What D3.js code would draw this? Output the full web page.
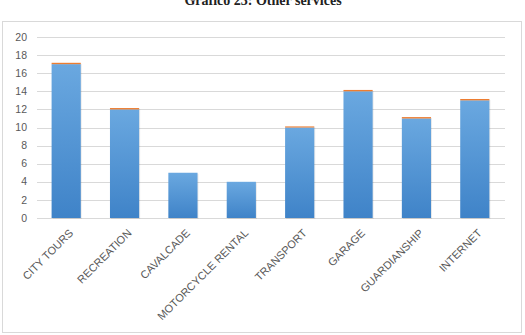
<!DOCTYPE html>
<html>
<head>
<meta charset="utf-8">
<script src="https://cdn.jsdelivr.net/npm/d3@7"></script>
<style>
  body { margin: 0; background: #fff; }
</style>
</head>
<body>
<div id="chart"></div>
<script>
var categories = ["CITY TOURS", "RECREATION", "CAVALCADE", "MOTORCYCLE RENTAL", "TRANSPORT", "GARAGE", "GUARDIANSHIP", "INTERNET"];
var mainValues = [17, 12, 5, 4, 10, 14, 11, 13];
var capValues = [0.15, 0.15, 0, 0, 0.12, 0.15, 0.15, 0.15];
var yTicks = [0, 2, 4, 6, 8, 10, 12, 14, 16, 18, 20];

var W = 525, H = 335;
var margin = { top: 37, right: 20, bottom: 117, left: 37 };

var svg = d3.select("#chart").append("svg")
    .attr("width", W)
    .attr("height", H);

// gradient for the bars
var grad = svg.append("defs").append("linearGradient")
    .attr("id", "barGrad")
    .attr("x1", 0).attr("y1", 0).attr("x2", 0).attr("y2", 1);
grad.append("stop").attr("offset", "0%").attr("stop-color", "#6aa8e0");
grad.append("stop").attr("offset", "100%").attr("stop-color", "#3f83c8");

// title (cut off at the top, as in the source)
svg.append("text")
    .attr("x", 263)
    .attr("y", 5)
    .attr("text-anchor", "middle")
    .style("font-family", "'Liberation Serif', serif")
    .style("font-weight", "bold")
    .style("font-size", "14px")
    .attr("fill", "#222")
    .text("Gráfico 23: Other services");

// outer chart border
svg.append("rect")
    .attr("x", 2.5).attr("y", 21.5)
    .attr("width", 519).attr("height", 311)
    .attr("fill", "none")
    .attr("stroke", "#d9d9d9");

var x = d3.scaleBand()
    .domain(categories)
    .range([margin.left, 504])
    .paddingInner(0.5)
    .paddingOuter(0.25);

var y = d3.scaleLinear()
    .domain([0, 20])
    .range([218, margin.top]);

// gridlines
svg.append("g")
    .selectAll("line")
    .data(yTicks)
    .enter()
    .append("line")
    .attr("x1", margin.left)
    .attr("x2", 505)
    .attr("y1", function(d) { return Math.round(y(d)) + 0.5; })
    .attr("y2", function(d) { return Math.round(y(d)) + 0.5; })
    .attr("stroke", "#d9d9d9")
    .attr("stroke-width", 1);

// y tick labels
svg.append("g")
    .selectAll("text")
    .data(yTicks)
    .enter()
    .append("text")
    .attr("x", 27)
    .attr("y", function(d) { return y(d); })
    .attr("dy", "0.35em")
    .attr("text-anchor", "end")
    .style("font-family", "'Liberation Sans', Arial, sans-serif")
    .style("font-size", "10.5px")
    .attr("fill", "#595959")
    .text(function(d) { return d; });

// shadow under bars
svg.append("g")
    .selectAll("rect")
    .data(categories)
    .enter()
    .append("rect")
    .attr("x", function(d) { return x(d) + 1; })
    .attr("y", function(d, i) { return y(mainValues[i] + capValues[i]) + 1; })
    .attr("width", x.bandwidth())
    .attr("height", function(d, i) { return y(0) - y(mainValues[i] + capValues[i]); })
    .attr("fill", "#000")
    .attr("opacity", 0.08);

// main bars
svg.append("g")
    .selectAll("rect")
    .data(categories)
    .enter()
    .append("rect")
    .attr("x", function(d) { return x(d); })
    .attr("y", function(d, i) { return y(mainValues[i]); })
    .attr("width", x.bandwidth())
    .attr("height", function(d, i) { return y(0) - y(mainValues[i]); })
    .attr("fill", "url(#barGrad)");

// small orange caps
svg.append("g")
    .selectAll("rect")
    .data(categories)
    .enter()
    .append("rect")
    .attr("x", function(d) { return x(d); })
    .attr("y", function(d, i) { return y(mainValues[i] + capValues[i]); })
    .attr("width", x.bandwidth())
    .attr("height", function(d, i) { return y(mainValues[i]) - y(mainValues[i] + capValues[i]); })
    .attr("fill", "#ed7d31");

// category labels
svg.append("g")
    .selectAll("text")
    .data(categories)
    .enter()
    .append("text")
    .attr("transform", function(d) {
        return "translate(" + (x(d) + x.bandwidth() / 2 + 5) + "," + 231 + ") rotate(-45)";
    })
    .attr("text-anchor", "end")
    .attr("dy", "0.35em")
    .style("font-family", "'Liberation Sans', Arial, sans-serif")
    .style("font-size", "11px")
    .attr("fill", "#595959")
    .text(function(d) { return d; });
</script>
</body>
</html>
